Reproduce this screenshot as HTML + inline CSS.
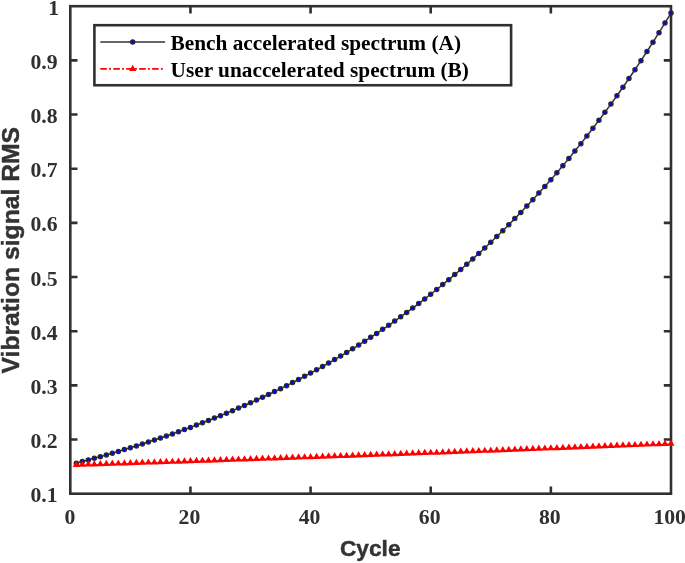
<!DOCTYPE html>
<html lang="en"><head><meta charset="utf-8"><title>Vibration signal RMS vs Cycle</title>
<style>html,body{margin:0;padding:0;background:#fff}body{width:685px;height:563px;overflow:hidden}svg{display:block}
.t{font-family:"Liberation Serif","Times New Roman",serif;font-weight:bold;fill:#303030}
.s{font-family:"Liberation Sans",Arial,sans-serif;font-weight:bold;fill:#333;stroke:#333;stroke-width:.45px;stroke-linejoin:round}.k{fill:#000}
</style></head><body>
<svg width="685" height="563" viewBox="0 0 685 563">
<rect width="685" height="563" fill="#fff"/>
<g id="axes" stroke="#303030" stroke-width="2.60" fill="none" stroke-linecap="butt">
<rect x="70.30" y="6.20" width="600.70" height="487.50"/>
<path d="M190.44 493.70v-7.20M190.44 6.20v7.20M310.58 493.70v-7.20M310.58 6.20v7.20M430.72 493.70v-7.20M430.72 6.20v7.20M550.86 493.70v-7.20M550.86 6.20v7.20M70.30 439.53h7.20M671.00 439.53h-7.20M70.30 385.37h7.20M671.00 385.37h-7.20M70.30 331.20h7.20M671.00 331.20h-7.20M70.30 277.03h7.20M671.00 277.03h-7.20M70.30 222.87h7.20M671.00 222.87h-7.20M70.30 168.70h7.20M671.00 168.70h-7.20M70.30 114.53h7.20M671.00 114.53h-7.20M70.30 60.37h7.20M671.00 60.37h-7.20"/>
</g>
<g id="seriesA"><polyline points="76.31,463.16 82.31,461.57 88.32,459.96 94.33,458.32 100.33,456.64 106.34,454.94 112.35,453.20 118.36,451.43 124.36,449.62 130.37,447.78 136.38,445.91 142.38,444.00 148.39,442.06 154.40,440.08 160.41,438.06 166.41,436.00 172.42,433.90 178.43,431.77 184.43,429.59 190.44,427.38 196.45,425.12 202.45,422.82 208.46,420.47 214.47,418.08 220.48,415.65 226.48,413.17 232.49,410.64 238.50,408.07 244.50,405.45 250.51,402.77 256.52,400.05 262.52,397.28 268.53,394.45 274.54,391.57 280.55,388.64 286.55,385.65 292.56,382.60 298.57,379.50 304.57,376.33 310.58,373.11 316.59,369.83 322.59,366.49 328.60,363.08 334.61,359.61 340.62,356.07 346.62,352.46 352.63,348.79 358.64,345.05 364.64,341.24 370.65,337.36 376.66,333.40 382.66,329.37 388.67,325.26 394.68,321.07 400.69,316.81 406.69,312.46 412.70,308.04 418.71,303.53 424.71,298.93 430.72,294.25 436.73,289.48 442.73,284.62 448.74,279.66 454.75,274.62 460.75,269.48 466.76,264.24 472.77,258.90 478.78,253.47 484.78,247.93 490.79,242.28 496.80,236.53 502.80,230.67 508.81,224.70 514.82,218.62 520.82,212.42 526.83,206.10 532.84,199.67 538.85,193.11 544.85,186.43 550.86,179.63 556.87,172.70 562.87,165.63 568.88,158.43 574.89,151.10 580.90,143.63 586.90,136.02 592.91,128.26 598.92,120.36 604.92,112.31 610.93,104.10 616.94,95.74 622.94,87.23 628.95,78.55 634.96,69.71 640.97,60.70 646.97,51.52 652.98,42.17 658.99,32.65 664.99,22.94 671.00,13.05" fill="none" stroke="#333" stroke-width="1.50" stroke-linejoin="round"/>
<g fill="#0000ff" stroke="#2b2b2b" stroke-width="1.30">
<circle cx="76.31" cy="463.16" r="2.10"/>
<circle cx="82.31" cy="461.57" r="2.10"/>
<circle cx="88.32" cy="459.96" r="2.10"/>
<circle cx="94.33" cy="458.32" r="2.10"/>
<circle cx="100.33" cy="456.64" r="2.10"/>
<circle cx="106.34" cy="454.94" r="2.10"/>
<circle cx="112.35" cy="453.20" r="2.10"/>
<circle cx="118.36" cy="451.43" r="2.10"/>
<circle cx="124.36" cy="449.62" r="2.10"/>
<circle cx="130.37" cy="447.78" r="2.10"/>
<circle cx="136.38" cy="445.91" r="2.10"/>
<circle cx="142.38" cy="444.00" r="2.10"/>
<circle cx="148.39" cy="442.06" r="2.10"/>
<circle cx="154.40" cy="440.08" r="2.10"/>
<circle cx="160.41" cy="438.06" r="2.10"/>
<circle cx="166.41" cy="436.00" r="2.10"/>
<circle cx="172.42" cy="433.90" r="2.10"/>
<circle cx="178.43" cy="431.77" r="2.10"/>
<circle cx="184.43" cy="429.59" r="2.10"/>
<circle cx="190.44" cy="427.38" r="2.10"/>
<circle cx="196.45" cy="425.12" r="2.10"/>
<circle cx="202.45" cy="422.82" r="2.10"/>
<circle cx="208.46" cy="420.47" r="2.10"/>
<circle cx="214.47" cy="418.08" r="2.10"/>
<circle cx="220.48" cy="415.65" r="2.10"/>
<circle cx="226.48" cy="413.17" r="2.10"/>
<circle cx="232.49" cy="410.64" r="2.10"/>
<circle cx="238.50" cy="408.07" r="2.10"/>
<circle cx="244.50" cy="405.45" r="2.10"/>
<circle cx="250.51" cy="402.77" r="2.10"/>
<circle cx="256.52" cy="400.05" r="2.10"/>
<circle cx="262.52" cy="397.28" r="2.10"/>
<circle cx="268.53" cy="394.45" r="2.10"/>
<circle cx="274.54" cy="391.57" r="2.10"/>
<circle cx="280.55" cy="388.64" r="2.10"/>
<circle cx="286.55" cy="385.65" r="2.10"/>
<circle cx="292.56" cy="382.60" r="2.10"/>
<circle cx="298.57" cy="379.50" r="2.10"/>
<circle cx="304.57" cy="376.33" r="2.10"/>
<circle cx="310.58" cy="373.11" r="2.10"/>
<circle cx="316.59" cy="369.83" r="2.10"/>
<circle cx="322.59" cy="366.49" r="2.10"/>
<circle cx="328.60" cy="363.08" r="2.10"/>
<circle cx="334.61" cy="359.61" r="2.10"/>
<circle cx="340.62" cy="356.07" r="2.10"/>
<circle cx="346.62" cy="352.46" r="2.10"/>
<circle cx="352.63" cy="348.79" r="2.10"/>
<circle cx="358.64" cy="345.05" r="2.10"/>
<circle cx="364.64" cy="341.24" r="2.10"/>
<circle cx="370.65" cy="337.36" r="2.10"/>
<circle cx="376.66" cy="333.40" r="2.10"/>
<circle cx="382.66" cy="329.37" r="2.10"/>
<circle cx="388.67" cy="325.26" r="2.10"/>
<circle cx="394.68" cy="321.07" r="2.10"/>
<circle cx="400.69" cy="316.81" r="2.10"/>
<circle cx="406.69" cy="312.46" r="2.10"/>
<circle cx="412.70" cy="308.04" r="2.10"/>
<circle cx="418.71" cy="303.53" r="2.10"/>
<circle cx="424.71" cy="298.93" r="2.10"/>
<circle cx="430.72" cy="294.25" r="2.10"/>
<circle cx="436.73" cy="289.48" r="2.10"/>
<circle cx="442.73" cy="284.62" r="2.10"/>
<circle cx="448.74" cy="279.66" r="2.10"/>
<circle cx="454.75" cy="274.62" r="2.10"/>
<circle cx="460.75" cy="269.48" r="2.10"/>
<circle cx="466.76" cy="264.24" r="2.10"/>
<circle cx="472.77" cy="258.90" r="2.10"/>
<circle cx="478.78" cy="253.47" r="2.10"/>
<circle cx="484.78" cy="247.93" r="2.10"/>
<circle cx="490.79" cy="242.28" r="2.10"/>
<circle cx="496.80" cy="236.53" r="2.10"/>
<circle cx="502.80" cy="230.67" r="2.10"/>
<circle cx="508.81" cy="224.70" r="2.10"/>
<circle cx="514.82" cy="218.62" r="2.10"/>
<circle cx="520.82" cy="212.42" r="2.10"/>
<circle cx="526.83" cy="206.10" r="2.10"/>
<circle cx="532.84" cy="199.67" r="2.10"/>
<circle cx="538.85" cy="193.11" r="2.10"/>
<circle cx="544.85" cy="186.43" r="2.10"/>
<circle cx="550.86" cy="179.63" r="2.10"/>
<circle cx="556.87" cy="172.70" r="2.10"/>
<circle cx="562.87" cy="165.63" r="2.10"/>
<circle cx="568.88" cy="158.43" r="2.10"/>
<circle cx="574.89" cy="151.10" r="2.10"/>
<circle cx="580.90" cy="143.63" r="2.10"/>
<circle cx="586.90" cy="136.02" r="2.10"/>
<circle cx="592.91" cy="128.26" r="2.10"/>
<circle cx="598.92" cy="120.36" r="2.10"/>
<circle cx="604.92" cy="112.31" r="2.10"/>
<circle cx="610.93" cy="104.10" r="2.10"/>
<circle cx="616.94" cy="95.74" r="2.10"/>
<circle cx="622.94" cy="87.23" r="2.10"/>
<circle cx="628.95" cy="78.55" r="2.10"/>
<circle cx="634.96" cy="69.71" r="2.10"/>
<circle cx="640.97" cy="60.70" r="2.10"/>
<circle cx="646.97" cy="51.52" r="2.10"/>
<circle cx="652.98" cy="42.17" r="2.10"/>
<circle cx="658.99" cy="32.65" r="2.10"/>
<circle cx="664.99" cy="22.94" r="2.10"/>
<circle cx="671.00" cy="13.05" r="2.10"/>
</g></g>
<g id="seriesB"><polyline points="76.31,465.49 82.31,465.29 88.32,465.10 94.33,464.91 100.33,464.72 106.34,464.52 112.35,464.33 118.36,464.14 124.36,463.94 130.37,463.75 136.38,463.55 142.38,463.35 148.39,463.16 154.40,462.96 160.41,462.76 166.41,462.56 172.42,462.37 178.43,462.17 184.43,461.97 190.44,461.77 196.45,461.57 202.45,461.37 208.46,461.17 214.47,460.97 220.48,460.76 226.48,460.56 232.49,460.36 238.50,460.15 244.50,459.95 250.51,459.75 256.52,459.54 262.52,459.34 268.53,459.13 274.54,458.92 280.55,458.72 286.55,458.51 292.56,458.30 298.57,458.09 304.57,457.88 310.58,457.67 316.59,457.46 322.59,457.25 328.60,457.04 334.61,456.83 340.62,456.62 346.62,456.41 352.63,456.20 358.64,455.98 364.64,455.77 370.65,455.56 376.66,455.34 382.66,455.13 388.67,454.91 394.68,454.69 400.69,454.48 406.69,454.26 412.70,454.04 418.71,453.82 424.71,453.60 430.72,453.39 436.73,453.17 442.73,452.95 448.74,452.72 454.75,452.50 460.75,452.28 466.76,452.06 472.77,451.84 478.78,451.61 484.78,451.39 490.79,451.17 496.80,450.94 502.80,450.71 508.81,450.49 514.82,450.26 520.82,450.04 526.83,449.81 532.84,449.58 538.85,449.35 544.85,449.12 550.86,448.89 556.87,448.66 562.87,448.43 568.88,448.20 574.89,447.97 580.90,447.74 586.90,447.50 592.91,447.27 598.92,447.04 604.92,446.80 610.93,446.57 616.94,446.33 622.94,446.09 628.95,445.86 634.96,445.62 640.97,445.38 646.97,445.14 652.98,444.90 658.99,444.67 664.99,444.43 671.00,444.18" fill="none" stroke="#ff0000" stroke-width="1.40"/>
<g fill="#ff0000">
<path d="M76.31 460.75L79.86 466.95L72.76 466.95Z"/>
<path d="M82.31 460.56L85.86 466.76L78.76 466.76Z"/>
<path d="M88.32 460.37L91.87 466.57L84.77 466.57Z"/>
<path d="M94.33 460.18L97.88 466.38L90.78 466.38Z"/>
<path d="M100.33 459.98L103.88 466.18L96.78 466.18Z"/>
<path d="M106.34 459.79L109.89 465.99L102.79 465.99Z"/>
<path d="M112.35 459.60L115.90 465.80L108.80 465.80Z"/>
<path d="M118.36 459.40L121.91 465.60L114.81 465.60Z"/>
<path d="M124.36 459.21L127.91 465.41L120.81 465.41Z"/>
<path d="M130.37 459.01L133.92 465.21L126.82 465.21Z"/>
<path d="M136.38 458.82L139.93 465.02L132.83 465.02Z"/>
<path d="M142.38 458.62L145.93 464.82L138.83 464.82Z"/>
<path d="M148.39 458.42L151.94 464.62L144.84 464.62Z"/>
<path d="M154.40 458.23L157.95 464.43L150.85 464.43Z"/>
<path d="M160.41 458.03L163.96 464.23L156.85 464.23Z"/>
<path d="M166.41 457.83L169.96 464.03L162.86 464.03Z"/>
<path d="M172.42 457.63L175.97 463.83L168.87 463.83Z"/>
<path d="M178.43 457.43L181.98 463.63L174.88 463.63Z"/>
<path d="M184.43 457.24L187.98 463.44L180.88 463.44Z"/>
<path d="M190.44 457.04L193.99 463.24L186.89 463.24Z"/>
<path d="M196.45 456.84L200.00 463.04L192.90 463.04Z"/>
<path d="M202.45 456.63L206.00 462.83L198.90 462.83Z"/>
<path d="M208.46 456.43L212.01 462.63L204.91 462.63Z"/>
<path d="M214.47 456.23L218.02 462.43L210.92 462.43Z"/>
<path d="M220.48 456.03L224.03 462.23L216.93 462.23Z"/>
<path d="M226.48 455.83L230.03 462.03L222.93 462.03Z"/>
<path d="M232.49 455.62L236.04 461.82L228.94 461.82Z"/>
<path d="M238.50 455.42L242.05 461.62L234.95 461.62Z"/>
<path d="M244.50 455.22L248.05 461.42L240.95 461.42Z"/>
<path d="M250.51 455.01L254.06 461.21L246.96 461.21Z"/>
<path d="M256.52 454.81L260.07 461.01L252.97 461.01Z"/>
<path d="M262.52 454.60L266.07 460.80L258.97 460.80Z"/>
<path d="M268.53 454.40L272.08 460.60L264.98 460.60Z"/>
<path d="M274.54 454.19L278.09 460.39L270.99 460.39Z"/>
<path d="M280.55 453.98L284.10 460.18L277.00 460.18Z"/>
<path d="M286.55 453.78L290.10 459.98L283.00 459.98Z"/>
<path d="M292.56 453.57L296.11 459.77L289.01 459.77Z"/>
<path d="M298.57 453.36L302.12 459.56L295.02 459.56Z"/>
<path d="M304.57 453.15L308.12 459.35L301.02 459.35Z"/>
<path d="M310.58 452.94L314.13 459.14L307.03 459.14Z"/>
<path d="M316.59 452.73L320.14 458.93L313.04 458.93Z"/>
<path d="M322.59 452.52L326.14 458.72L319.04 458.72Z"/>
<path d="M328.60 452.31L332.15 458.51L325.05 458.51Z"/>
<path d="M334.61 452.10L338.16 458.30L331.06 458.30Z"/>
<path d="M340.62 451.89L344.17 458.09L337.07 458.09Z"/>
<path d="M346.62 451.68L350.17 457.88L343.07 457.88Z"/>
<path d="M352.63 451.46L356.18 457.66L349.08 457.66Z"/>
<path d="M358.64 451.25L362.19 457.45L355.09 457.45Z"/>
<path d="M364.64 451.04L368.19 457.24L361.09 457.24Z"/>
<path d="M370.65 450.82L374.20 457.02L367.10 457.02Z"/>
<path d="M376.66 450.61L380.21 456.81L373.11 456.81Z"/>
<path d="M382.66 450.39L386.21 456.59L379.11 456.59Z"/>
<path d="M388.67 450.18L392.22 456.38L385.12 456.38Z"/>
<path d="M394.68 449.96L398.23 456.16L391.13 456.16Z"/>
<path d="M400.69 449.74L404.24 455.94L397.13 455.94Z"/>
<path d="M406.69 449.53L410.24 455.73L403.14 455.73Z"/>
<path d="M412.70 449.31L416.25 455.51L409.15 455.51Z"/>
<path d="M418.71 449.09L422.26 455.29L415.16 455.29Z"/>
<path d="M424.71 448.87L428.26 455.07L421.16 455.07Z"/>
<path d="M430.72 448.65L434.27 454.85L427.17 454.85Z"/>
<path d="M436.73 448.43L440.28 454.63L433.18 454.63Z"/>
<path d="M442.73 448.21L446.28 454.41L439.18 454.41Z"/>
<path d="M448.74 447.99L452.29 454.19L445.19 454.19Z"/>
<path d="M454.75 447.77L458.30 453.97L451.20 453.97Z"/>
<path d="M460.75 447.55L464.31 453.75L457.20 453.75Z"/>
<path d="M466.76 447.33L470.31 453.53L463.21 453.53Z"/>
<path d="M472.77 447.10L476.32 453.30L469.22 453.30Z"/>
<path d="M478.78 446.88L482.33 453.08L475.23 453.08Z"/>
<path d="M484.78 446.66L488.33 452.86L481.23 452.86Z"/>
<path d="M490.79 446.43L494.34 452.63L487.24 452.63Z"/>
<path d="M496.80 446.21L500.35 452.41L493.25 452.41Z"/>
<path d="M502.80 445.98L506.35 452.18L499.25 452.18Z"/>
<path d="M508.81 445.76L512.36 451.96L505.26 451.96Z"/>
<path d="M514.82 445.53L518.37 451.73L511.27 451.73Z"/>
<path d="M520.82 445.30L524.37 451.50L517.27 451.50Z"/>
<path d="M526.83 445.07L530.38 451.27L523.28 451.27Z"/>
<path d="M532.84 444.85L536.39 451.05L529.29 451.05Z"/>
<path d="M538.85 444.62L542.40 450.82L535.30 450.82Z"/>
<path d="M544.85 444.39L548.40 450.59L541.30 450.59Z"/>
<path d="M550.86 444.16L554.41 450.36L547.31 450.36Z"/>
<path d="M556.87 443.93L560.42 450.13L553.32 450.13Z"/>
<path d="M562.87 443.70L566.42 449.90L559.32 449.90Z"/>
<path d="M568.88 443.47L572.43 449.67L565.33 449.67Z"/>
<path d="M574.89 443.23L578.44 449.43L571.34 449.43Z"/>
<path d="M580.90 443.00L584.45 449.20L577.35 449.20Z"/>
<path d="M586.90 442.77L590.45 448.97L583.35 448.97Z"/>
<path d="M592.91 442.54L596.46 448.74L589.36 448.74Z"/>
<path d="M598.92 442.30L602.47 448.50L595.37 448.50Z"/>
<path d="M604.92 442.07L608.47 448.27L601.37 448.27Z"/>
<path d="M610.93 441.83L614.48 448.03L607.38 448.03Z"/>
<path d="M616.94 441.60L620.49 447.80L613.39 447.80Z"/>
<path d="M622.94 441.36L626.49 447.56L619.39 447.56Z"/>
<path d="M628.95 441.12L632.50 447.32L625.40 447.32Z"/>
<path d="M634.96 440.89L638.51 447.09L631.41 447.09Z"/>
<path d="M640.97 440.65L644.51 446.85L637.42 446.85Z"/>
<path d="M646.97 440.41L650.52 446.61L643.42 446.61Z"/>
<path d="M652.98 440.17L656.53 446.37L649.43 446.37Z"/>
<path d="M658.99 439.93L662.54 446.13L655.44 446.13Z"/>
<path d="M664.99 439.69L668.54 445.89L661.44 445.89Z"/>
<path d="M671.00 439.45L674.55 445.65L667.45 445.65Z"/>
</g></g>
<g class="t" font-size="20.30" text-anchor="end">
<text transform="translate(57.60 502.30) scale(1.070 1)">0.1</text>
<text transform="translate(57.60 448.13) scale(1.070 1)">0.2</text>
<text transform="translate(57.60 393.97) scale(1.070 1)">0.3</text>
<text transform="translate(57.60 339.80) scale(1.070 1)">0.4</text>
<text transform="translate(57.60 285.63) scale(1.070 1)">0.5</text>
<text transform="translate(57.60 231.47) scale(1.070 1)">0.6</text>
<text transform="translate(57.60 177.30) scale(1.070 1)">0.7</text>
<text transform="translate(57.60 123.13) scale(1.070 1)">0.8</text>
<text transform="translate(57.60 68.97) scale(1.070 1)">0.9</text>
<text transform="translate(59.20 14.80) scale(1.070 1)">1</text>
</g>
<g class="t" font-size="20.30" text-anchor="middle">
<text transform="translate(69.80 524.00) scale(1.070 1)">0</text>
<text transform="translate(189.44 524.00) scale(1.070 1)">20</text>
<text transform="translate(309.58 524.00) scale(1.070 1)">40</text>
<text transform="translate(429.72 524.00) scale(1.070 1)">60</text>
<text transform="translate(549.86 524.00) scale(1.070 1)">80</text>
<text transform="translate(669.70 524.00) scale(1.070 1)">100</text>
</g>
<text class="s" font-size="22.70" x="340.00" y="556.40" textLength="60.50" lengthAdjust="spacingAndGlyphs">Cycle</text>
<text class="s" font-size="23.20" transform="translate(18.60 250.20) rotate(-90)" x="-123.25" y="0" textLength="246.50" lengthAdjust="spacingAndGlyphs">Vibration signal RMS</text>
<g id="legend">
<rect x="94.40" y="25.20" width="416.70" height="60.05" fill="#fff" stroke="#303030" stroke-width="2.60"/>
<path d="M100.30 41.90H165.10" stroke="#333" stroke-width="1.50"/>
<circle cx="132.70" cy="41.90" r="2.10" fill="#0000ff" stroke="#2b2b2b" stroke-width="1.30"/>
<path d="M100.30 68.90H165.10" stroke="#ff0000" stroke-width="1.60" stroke-dasharray="6.6 2.2 1.9 2.25"/>
<path d="M132.70 64.77L136.25 70.97L129.15 70.97Z" fill="#ff0000"/>
<text class="t k" font-size="20.30" transform="translate(170.60 50.30) scale(1.050 1)">Bench accelerated spectrum (A)</text>
<text class="t k" font-size="20.30" transform="translate(170.60 77.30) scale(1.050 1)">User unaccelerated spectrum (B)</text>
</g>
</svg></body></html>
